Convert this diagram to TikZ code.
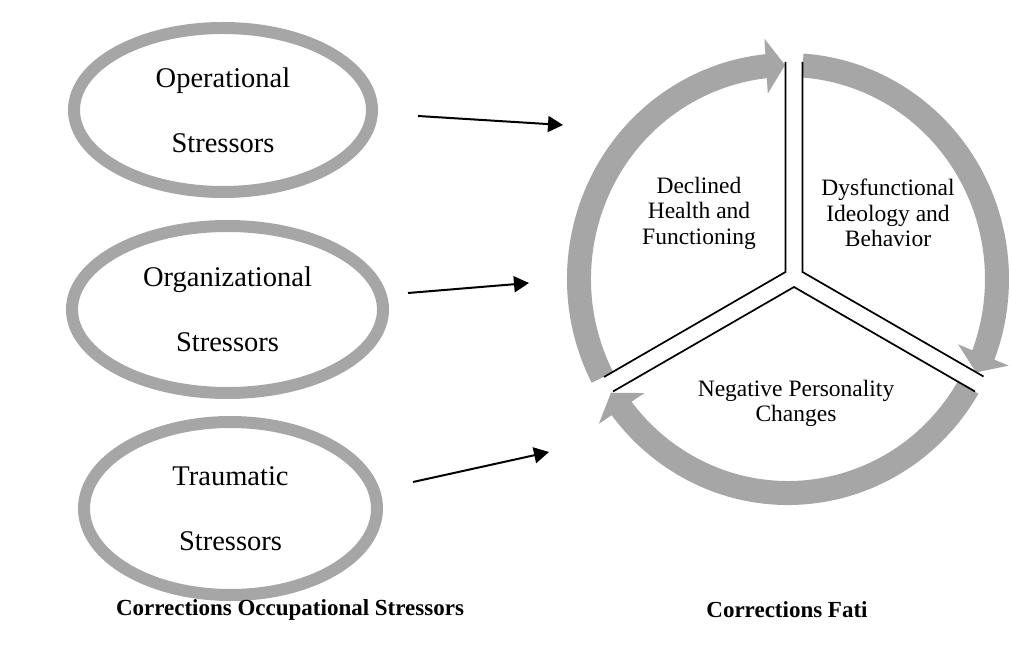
\documentclass[tikz,border=0pt]{standalone}
\usepackage{fontspec}
\setmainfont{Liberation Serif}
\usepackage{tikz}
\usetikzlibrary{arrows.meta}
\usetikzlibrary{bending}
\usetikzlibrary{shapes.geometric}
\definecolor{ringgray}{HTML}{A6A6A6}

\begin{document}
\begin{tikzpicture}[
		x=1pt, y=1pt,
		stressor/.style={ellipse, draw=ringgray, line width=12pt, inner sep=0pt,
			align=center, font=\fontsize{28.5}{65}\selectfont},
		feed/.style={line width=2pt, -{Triangle[length=15pt, width=16pt]}},
		cyclearrow/.style={color=ringgray, line width=24pt,
			-{Triangle[length=19pt, width=54pt]}},
		divider/.style={line width=1.7pt, line join=miter},
		phase/.style={align=center, font=\fontsize{23.5}{25.5}\selectfont},
		caption/.style={font=\fontsize{23}{27}\selectfont\bfseries}
	]
	\useasboundingbox (0,0) rectangle (1012,659);

	% stressor ellipses
	\node[stressor, minimum width=298pt, minimum height=164pt] (oper)
		at (223,549) {Operational\\Stressors};
	\node[stressor, minimum width=311pt, minimum height=167pt] (organ)
		at (227.5,349.5) {Organizational\\Stressors};
	\node[stressor, minimum width=293pt, minimum height=173pt] (traum)
		at (230.5,150.5) {Traumatic\\Stressors};

	\coordinate (oper-tail) at (418,543);
	\coordinate (oper-head) at (563,534);
	\coordinate (organ-tail) at (408,366);
	\coordinate (organ-head) at (529,376);
	\coordinate (traum-tail) at (413,177);
	\coordinate (traum-head) at (549,207);

	\draw[feed] (oper-tail) -- (oper-head);
	\draw[feed] (organ-tail) -- (organ-head);
	\draw[feed] (traum-tail) -- (traum-head);

	% fatigue cycle
	\coordinate (hub) at (788,380);
	\draw[cyclearrow]
		([shift={(207.4:209 and 214)}]hub)
			arc[start angle=207.4, end angle=90.8, x radius=209pt, y radius=214pt];
	\draw[cyclearrow]
		([shift={(86:209 and 214)}]hub)
			arc[start angle=86, end angle=-25.9, x radius=209pt, y radius=214pt];
	\draw[cyclearrow]
		([shift={(-30.5:209 and 214)}]hub)
			arc[start angle=-30.5, end angle=-147.9, x radius=209pt, y radius=214pt];

	\draw[divider] (604,282) -- (785.5,387) -- (785.5,597);
	\draw[divider] (802.5,597) -- (802.5,387) -- (983.5,282.5);
	\draw[divider] (613,267.5) -- (794,372) -- (975,267.5);

	\node[phase] (health) at (699,446)
		{Declined\\Health and\\Functioning};
	\node[phase] (ideology) at (888,446)
		{Dysfunctional\\Ideology and\\Behavior};
	\node[phase] (persona) at (796,255.5)
		{Negative Personality\\Changes};

	% captions
	\node[caption] (cap-left) at (290,49) {Corrections Occupational Stressors};
	\node[caption] (cap-right) at (787,49) {Corrections Fati};
\end{tikzpicture}
\end{document}
